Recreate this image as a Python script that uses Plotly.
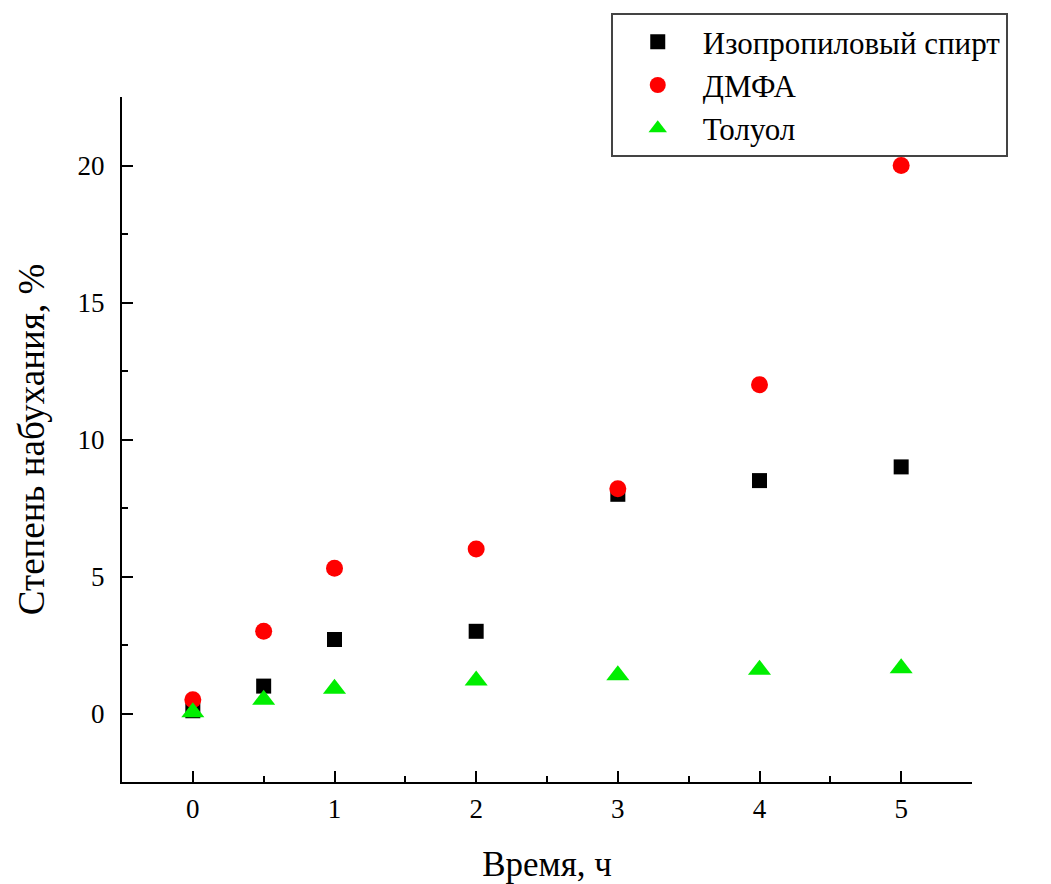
import plotly.graph_objects as go

time_h = [0, 0.5, 1, 2, 3, 4, 5]
isopropanol = [0.1, 1.0, 2.7, 3.0, 8.0, 8.5, 9.0]
dmfa = [0.5, 3.0, 5.3, 6.0, 8.2, 12.0, 20.0]
toluene = [0.05, 0.5, 0.9, 1.2, 1.4, 1.6, 1.65]

names = ["Изопропиловый спирт", "ДМФА", "Толуол"]
x_ticks = [0, 1, 2, 3, 4, 5]
x_minor = [0.5, 1.5, 2.5, 3.5, 4.5, 5.5]
y_ticks = [0, 5, 10, 15, 20]
y_minor = [2.5, 7.5, 12.5, 17.5, 22.5]

FONT = "Liberation Serif"

fig = go.Figure()
fig.add_trace(go.Scatter(x=time_h, y=isopropanol, mode="markers", name=names[0],
                         marker=dict(symbol="square", size=15, color="black")))
fig.add_trace(go.Scatter(x=time_h, y=dmfa, mode="markers", name=names[1],
                         marker=dict(symbol="circle", size=17, color="red")))
fig.add_trace(go.Scatter(x=time_h, y=toluene, mode="markers", name=names[2],
                         marker=dict(symbol="triangle-up", size=20, color="#00ee00")))

axis_common = dict(showline=True, linecolor="black", linewidth=2, ticks="inside",
                   ticklen=11, tickwidth=2, tickcolor="black", showgrid=False,
                   zeroline=False, mirror=False, automargin=False,
                   tickfont=dict(family=FONT, size=27, color="black"))

fig.update_xaxes(range=[-0.5, 5.5], tickvals=x_ticks, ticktext=[str(v) for v in x_ticks],
                 minor=dict(tickvals=x_minor, ticks="inside", ticklen=6, tickwidth=2, tickcolor="black"),
                 ticklabelstandoff=2,
                 title=dict(text="Время, ч", font=dict(family=FONT, size=35, color="black"), standoff=30),
                 **axis_common)
fig.update_yaxes(range=[-2.5, 22.5], tickvals=y_ticks, ticktext=[str(v) for v in y_ticks],
                 minor=dict(tickvals=y_minor, ticks="inside", ticklen=6, tickwidth=2, tickcolor="black"),
                 ticklabelstandoff=10,
                 title=dict(text="Степень набухания, %", font=dict(family=FONT, size=37, color="black"), standoff=22),
                 **axis_common)

fig.update_layout(
    width=1051, height=884,
    margin=dict(l=122, r=79, t=97, b=102, autoexpand=False),
    plot_bgcolor="white", paper_bgcolor="white",
    legend=dict(x=0.575, y=1.1226, xanchor="left", yanchor="top",
                bordercolor="#444", borderwidth=2, bgcolor="white",
                font=dict(family=FONT, size=31, color="black"),
                itemsizing="trace", itemwidth=80, tracegroupgap=0),
    showlegend=True,
)

fig.write_html("out.html")
